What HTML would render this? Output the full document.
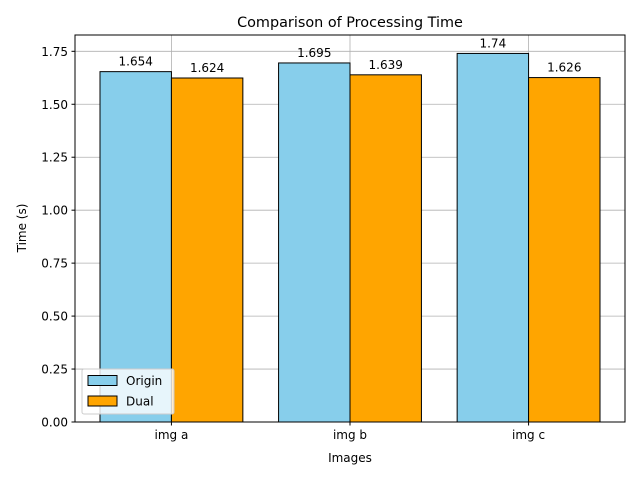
<!DOCTYPE html>
<html><head><meta charset="utf-8"><style>body{margin:0;background:#fff}svg{font-family:"DejaVu Sans","Liberation Sans",sans-serif}</style></head>
<body>
<svg id="chart" width="640" height="480" xmlns="http://www.w3.org/2000/svg">
<rect width="640" height="480" fill="#fff"/>
<g id="grid"></g><g id="bars"></g><g id="labels"></g><g id="axes"></g>
<text x="350" y="27" font-size="14.4" text-anchor="middle">Comparison of Processing Time</text>
<text x="350" y="462" font-size="12" text-anchor="middle">Images</text>
<text transform="translate(26,228) rotate(-90)" font-size="12" text-anchor="middle">Time (s)</text>
<g>
<rect x="82" y="369" width="92" height="45" rx="2" fill="#fff" fill-opacity="0.8" stroke="#ccc"/>
<rect x="88" y="375.5" width="29" height="10" fill="#87CEEB" stroke="#000"/>
<text x="126" y="385" font-size="12">Origin</text>
<rect x="88" y="396" width="29" height="10" fill="#FFA500" stroke="#000"/>
<text x="126" y="405.5" font-size="12">Dual</text>
</g>
</svg>
<script>
const categories=["img a","img b","img c"];
const originValues=[1.654,1.695,1.74];
const dualValues=[1.624,1.639,1.626];
const yTicks=[0,0.25,0.5,0.75,1.0,1.25,1.5,1.75];
const yTickLabels=["0.00","0.25","0.50","0.75","1.00","1.25","1.50","1.75"];
const L=75,R=625,T=35,B=422,NS="http://www.w3.org/2000/svg";
const yMax=Math.max(...originValues,...dualValues)*1.05;
const xMin=-0.54,xMax=categories.length-1+0.54;
const X=v=>L+(v-xMin)/(xMax-xMin)*(R-L);
const Y=v=>B-v/yMax*(B-T);
function mk(t,a,p){const e=document.createElementNS(NS,t);for(const k in a)e.setAttribute(k,a[k]);document.getElementById(p).appendChild(e);return e;}
yTicks.forEach((t,i)=>{
 const g=mk('line',{x1:L,x2:R,y1:Y(t),y2:Y(t),stroke:'#b0b0b0','stroke-width':0.8},'grid');
 
 
 const tk=mk('line',{x1:L-3.5,x2:L,y1:Y(t),y2:Y(t),stroke:'#000'},'axes');
 
 
 const tx=mk('text',{x:L-7,y:Y(t)+4.5,'font-size':12,'text-anchor':'end'},'axes');tx.textContent=yTickLabels[i];
 
 
});
categories.forEach((c,i)=>{
 const g=mk('line',{x1:X(i),x2:X(i),y1:T,y2:B,stroke:'#b0b0b0','stroke-width':0.8},'grid');
 
 
 [[originValues[i],'#87CEEB',-0.4,'origin'],[dualValues[i],'#FFA500',0,'dual']].forEach(([v,col,off,nm])=>{
  const b=mk('rect',{x:X(i+off),y:Y(v),width:X(i+off+0.4)-X(i+off),height:B-Y(v),fill:col,stroke:'#000'},'bars');
  
  
  const t=mk('text',{x:X(i+off+0.2),y:Y(v)-6,'font-size':12,'text-anchor':'middle'},'labels');t.textContent=String(v);
  
  
 });
 const tk=mk('line',{x1:X(i),x2:X(i),y1:B,y2:B+3.5,stroke:'#000'},'axes');
 
 
 const tx=mk('text',{x:X(i),y:B+17,'font-size':12,'text-anchor':'middle'},'axes');tx.textContent=c;
 
 
});
const f=mk('rect',{x:L,y:T,width:R-L,height:B-T,fill:'none',stroke:'#000','stroke-width':1},'axes');


</script>
</body></html>
